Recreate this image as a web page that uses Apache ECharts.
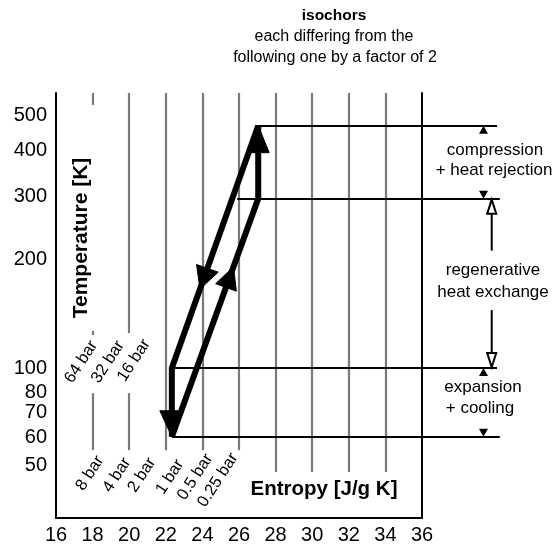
<!DOCTYPE html>
<html><head><meta charset="utf-8">
<script src="https://cdn.jsdelivr.net/npm/echarts@6/dist/echarts.min.js"></script>
<style>html,body{margin:0;padding:0;background:#fff}#c{width:556px;height:550px}</style>
</head><body><div id="c"></div>
<script>
// ---------- data ----------
const xMin = 16, xMax = 36, xStep = 2;                 // entropy axis [J/g K]
const yRangeK = [38.4, 579];                            // temperature axis range [K] (log)
const yTickLabels = [50, 60, 70, 80, 100, 200, 300, 400, 500];

// grey vertical grid lines: [entropy, T from, T to]
const greySegments = [
  [18, 579, 536.5], [18, 126.7, 123.5], [18, 85.2, 59.2],
  [20, 579, 125.0], [20, 85.2, 59.2],
  [22, 579, 59.2], [24, 579, 59.2], [26, 579, 59.2],
  [28, 579, 51.5], [30, 579, 51.5], [32, 579, 51.5], [34, 579, 51.5]
];

// cycle corner points
const cycleS = [22.33, 27.05, 27.05, 22.33];
const cycleT = [64.5, 295, 470, 100];
// arrows on the cycle: [from vertex, to vertex, fraction along]
const cycleArrows = [[1, 2, 1.0], [3, 0, 1.0], [2, 3, 0.674], [0, 1, 0.714]];

// horizontal temperature level lines
const levelT = [470, 295, 100, 64.5];
const levelStartS = [27.05, 25.9, 22.33, 22.33];
const levelEndS = [40.1, 40.25, 40.1, 40.25];

// dimension arrows at right
const smallArrowS = 39.36;
const smallArrowT = [470, 295, 100, 64.5];
const smallArrowDir = ['up', 'down', 'up', 'down'];
const hollowArrowS = 39.81;
const hollowArrowT = [295, 100];
const hollowArrowDir = ['up', 'down'];

// isobar labels
const upperBarLabels = ['64 bar', '32 bar', '16 bar'];
const upperBarS = [17.37, 18.84, 20.26];
const upperBarT = [104, 104, 105];
const lowerBarLabels = ['8 bar', '4 bar', '2 bar', '1 bar', '0.5 bar', '0.25 bar'];
const lowerBarS = [17.86, 19.33, 20.70, 22.23, 23.6, 24.85];
const lowerBarT = [51.1, 50.5, 50.5, 49.9, 49.9, 48.9];

// ---------- chart ----------
const FONT = '"Liberation Sans", Arial, Helvetica, sans-serif';
const lg = v => Math.log10(v);
const chart = echarts.init(document.getElementById('c'), null, {renderer: 'canvas'});

const barLabelData = upperBarLabels.map((n, i) => ({name: n, value: [upperBarS[i], lg(upperBarT[i])]}))
  .concat(lowerBarLabels.map((n, i) => ({name: n, value: [lowerBarS[i], lg(lowerBarT[i])]})));

const cyclePts = cycleS.map((s, i) => [s, lg(cycleT[i])]);

chart.setOption({
  animation: false,
  backgroundColor: '#fff',
  textStyle: {fontFamily: FONT},
  grid: {left: 56, right: 134, top: 93, bottom: 32, outerBoundsMode: 'none', containLabel: false},
  xAxis: {
    type: 'value', min: xMin, max: xMax, interval: xStep,
    axisLine: {show: true, onZero: false, lineStyle: {color: '#000', width: 2}},
    axisTick: {show: false}, splitLine: {show: false},
    axisLabel: {fontSize: 20, color: '#000', margin: 7, fontFamily: FONT}
  },
  yAxis: [{
    type: 'value', min: lg(yRangeK[0]), max: lg(yRangeK[1]),
    axisLine: {show: true, onZero: false, lineStyle: {color: '#000', width: 2}},
    axisTick: {show: false}, splitLine: {show: false},
    axisLabel: {
      customValues: yTickLabels.map(lg),
      fontSize: 20, color: '#000', margin: 9, fontFamily: FONT,
      formatter: v => {
        const t = Math.round(Math.pow(10, v));
        return t < 100 ? '{lo|' + t + '}' : String(t);
      },
      rich: {lo: {fontSize: 20, color: '#000', fontFamily: FONT, padding: [0, 0, 22, 0]}}
    }
  }, {
    type: 'value', position: 'right', min: lg(yRangeK[0]), max: lg(yRangeK[1]),
    axisLine: {show: true, onZero: false, lineStyle: {color: '#000', width: 2}},
    axisTick: {show: false}, splitLine: {show: false}, axisLabel: {show: false}
  }],
  series: [{
    type: 'lines', coordinateSystem: 'cartesian2d', silent: true, z: 1,
    lineStyle: {color: '#7a7a7a', width: 2.2, opacity: 1},
    data: greySegments.map(([s, a, b]) => ({coords: [[s, lg(a)], [s, lg(b)]]}))
  }, {
    type: 'lines', coordinateSystem: 'cartesian2d', silent: true, clip: false, z: 2,
    lineStyle: {color: '#000', width: 2, opacity: 1},
    data: levelT.map((t, i) => ({coords: [[levelStartS[i], lg(t)], [levelEndS[i], lg(t)]]}))
  }, {
    type: 'line', silent: true, z: 3, symbol: 'none',
    lineStyle: {color: '#000', width: 6, join: 'bevel'},
    data: cyclePts.concat([cyclePts[0]])
  }, {
    type: 'scatter', silent: true, z: 4, symbolSize: 1,
    itemStyle: {color: 'rgba(0,0,0,0)'},
    label: {show: true, position: 'inside', rotate: 57, formatter: '{b}', fontSize: 16.5,
            color: '#000', fontFamily: FONT, opacity: 1},
    data: barLabelData
  }]
});

// ---------- annotations (positions via the chart's own scales) ----------
const px = (s, t) => chart.convertToPixel({gridIndex: 0}, [s, lg(t)]);
function unit(a, b) { const dx = b[0] - a[0], dy = b[1] - a[1], d = Math.hypot(dx, dy); return [dx / d, dy / d]; }
function head(tip, dir, L, W) {
  const bx = tip[0] - dir[0] * L, by = tip[1] - dir[1] * L, nx = -dir[1], ny = dir[0];
  return [[tip[0], tip[1]], [bx + nx * W / 2, by + ny * W / 2], [bx - nx * W / 2, by - ny * W / 2]];
}
const g = [];
const P = cyclePts.map(p => chart.convertToPixel({gridIndex: 0}, p));
const cycleArrowSize = [[27, 22], [26, 24], [22, 23], [22, 22]];
cycleArrows.forEach(([a, b, f], i) => {
  const dir = unit(P[a], P[b]);
  const tip = [P[a][0] + (P[b][0] - P[a][0]) * f, P[a][1] + (P[b][1] - P[a][1]) * f];
  g.push({type: 'polygon', z: 100, silent: true, shape: {points: head(tip, dir, cycleArrowSize[i][0], cycleArrowSize[i][1])},
          style: {fill: '#000', stroke: '#000', lineWidth: 1}});
});
smallArrowT.forEach((t, i) => {
  const tip = px(smallArrowS, t);
  const dir = smallArrowDir[i] === 'up' ? [0, -1] : [0, 1];
  g.push({type: 'polygon', z: 100, silent: true, shape: {points: head(tip, dir, 8, 9)}, style: {fill: '#000'}});
});
hollowArrowT.forEach((t, i) => {
  const tip = px(hollowArrowS, t);
  const up = hollowArrowDir[i] === 'up';
  const dir = up ? [0, -1] : [0, 1];
  g.push({type: 'line', z: 100, silent: true,
          shape: up ? {x1: tip[0], y1: tip[1] + 15, x2: tip[0], y2: tip[1] + 52}
                    : {x1: tip[0], y1: tip[1] - 58, x2: tip[0], y2: tip[1] - 15},
          style: {stroke: '#000', lineWidth: 2}});
  g.push({type: 'polygon', z: 101, silent: true, shape: {points: head([tip[0], tip[1] + (up ? 1 : -1)], dir, 14, 9)},
          style: {fill: '#fff', stroke: '#000', lineWidth: 2}});
});
function txt(x, y, text, size, weight, rot) {
  return {type: 'text', x: x, y: y, z: 100, silent: true, rotation: rot || 0,
          style: {text: text, fontSize: size, fontWeight: weight || 'normal', fontFamily: FONT, fill: '#000',
                  align: 'center', verticalAlign: 'middle', textAlign: 'center', textVerticalAlign: 'middle'}};
}
g.push(txt(334, 16, 'isochors', 15.5, 'bold'));
g.push(txt(334, 37, 'each differing from the', 16));
g.push(txt(335, 58, 'following one by a factor of 2', 16));
g.push(txt(495, 150, 'compression', 17));
g.push(txt(494, 170, '+ heat rejection', 17));
g.push(txt(493, 270, 'regenerative', 17));
g.push(txt(493, 292, 'heat exchange', 17));
g.push(txt(483, 387, 'expansion', 17));
g.push(txt(480, 408, '+ cooling', 17));
g.push(txt(324, 489, 'Entropy [J/g K]', 20.5, 'bold'));
g.push(txt(81, 238, 'Temperature [K]', 21, 'bold', Math.PI / 2));
chart.setOption({graphic: {elements: g}});
</script>
</body></html>
